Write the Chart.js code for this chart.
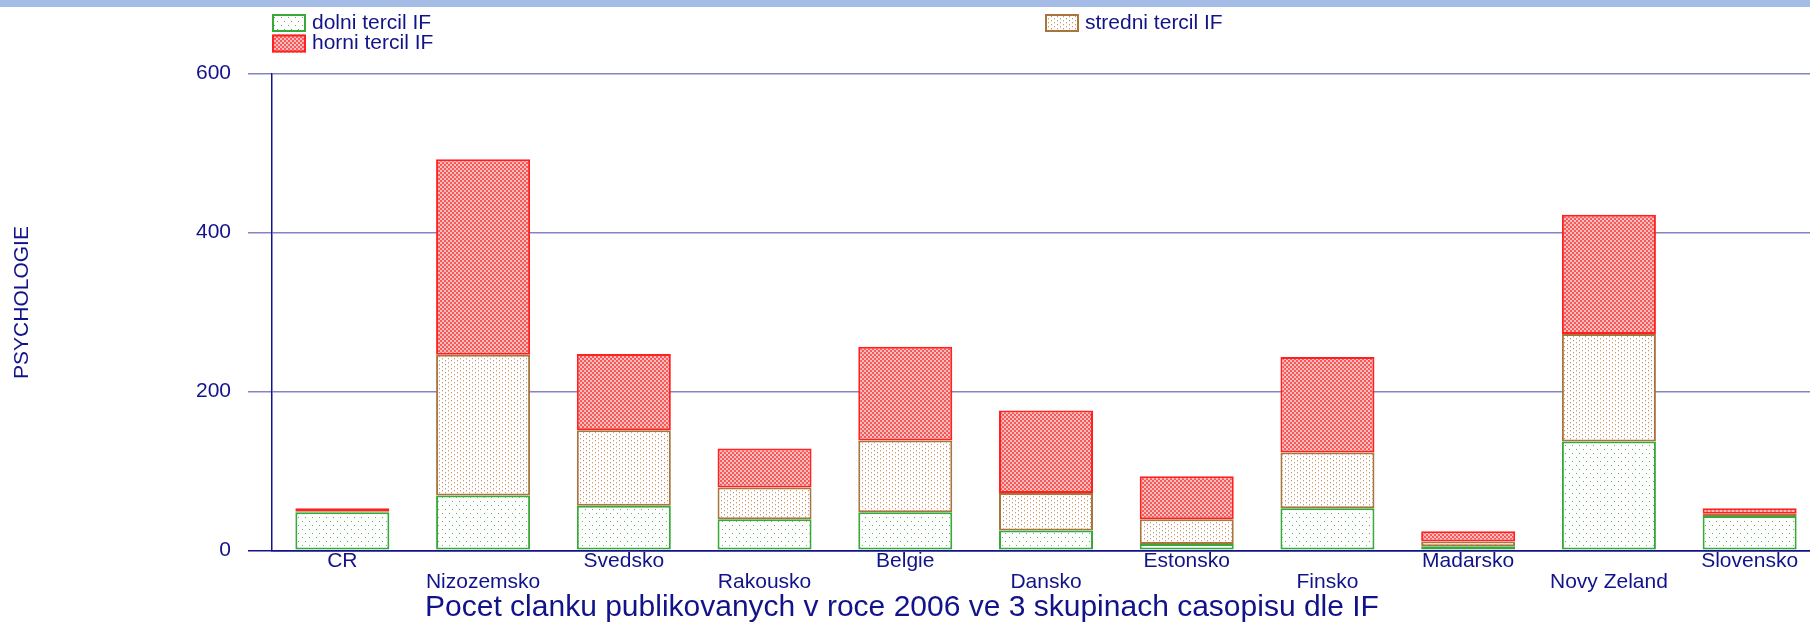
<!DOCTYPE html>
<html>
<head>
<meta charset="utf-8">
<script src="https://cdn.jsdelivr.net/npm/chart.js@4.4.1/dist/chart.umd.min.js"></script>
<style>
html,body{margin:0;padding:0;overflow:hidden;background:#fff;width:1810px;height:622px;}
canvas{display:block;}
</style>
</head>
<body>
<canvas id="c" width="1820" height="622"></canvas>
<script>
const categories = ['CR','Nizozemsko','Svedsko','Rakousko','Belgie','Dansko','Estonsko','Finsko','Madarsko','Novy Zeland','Slovensko'];
const dolni   = [48, 69, 56, 39, 48, 25, 8, 53, 5, 137, 43];
const stredni = [1, 177, 95, 40, 90, 47, 31, 70, 6, 135, 3];
const horni   = [4, 246, 96, 49, 118, 104, 54, 120, 13, 150, 7];
const seriesNames = ['dolni tercil IF', 'stredni tercil IF', 'horni tercil IF'];
const yTicks = [0, 200, 400, 600];
const xTitle = 'Pocet clanku publikovanych v roce 2006 ve 3 skupinach casopisu dle IF';
const yTitle = 'PSYCHOLOGIE';

const NAVY = '#12128a';
const GRID = '#8484c4';
const FONT = "'Liberation Sans', Arial, sans-serif";

function makePattern(w, h, bg, draw) {
  const c = document.createElement('canvas');
  c.width = w; c.height = h;
  const g = c.getContext('2d');
  g.fillStyle = bg; g.fillRect(0, 0, w, h);
  draw(g);
  return g.createPattern(c, 'repeat');
}
const ctx0 = document.getElementById('c').getContext('2d');
const greenPat = makePattern(7, 8, '#ffffff', g => {
  g.fillStyle = '#55b855';
  g.fillRect(1, 1, 1, 1); g.fillRect(4, 5, 1, 1);
});
const brownPat = makePattern(6, 4, '#ffffff', g => {
  g.fillStyle = '#c8966a';
  g.fillRect(1, 0, 1, 1); g.fillRect(4, 2, 1, 1);
  g.fillStyle = '#efdfcf';
  g.fillRect(1, 1, 1, 1); g.fillRect(4, 3, 1, 1);
});
const redPat = makePattern(4, 4, '#ffbcbc', g => {
  g.fillStyle = '#f45a5a';
  g.fillRect(0, 0, 2, 2); g.fillRect(2, 2, 2, 2);
});

const fills = [greenPat, brownPat, redPat];
const borders = ['#38a838', '#a8753f', '#ff2020'];

const labels = categories.map((c, i) => i % 2 === 1 ? ['', c] : c);

const decor = {
  id: 'decor',
  beforeDraw(chart) {
    const g = chart.ctx;
    g.save();
    g.fillStyle = '#a5bde6';
    g.fillRect(0, 0, chart.width, 7);
    g.restore();
  },
  afterDraw(chart) {
    const g = chart.ctx;
    g.save();
    g.font = '21px ' + FONT;
    g.textBaseline = 'alphabetic';
    g.textAlign = 'left';
    const items = [
      {x: 272, y: 14, i: 0},
      {x: 1045, y: 14, i: 1},
      {x: 272, y: 34.5, i: 2}
    ];
    items.forEach(it => {
      g.fillStyle = fills[it.i];
      g.fillRect(it.x, it.y, 34, 18);
      g.strokeStyle = borders[it.i];
      g.lineWidth = 2;
      g.strokeRect(it.x + 1, it.y + 1, 32, 16);
      g.fillStyle = NAVY;
      g.fillText(seriesNames[it.i], it.x + 40, it.y + 14.5);
    });
    g.font = '30px ' + FONT;
    g.textAlign = 'center';
    g.fillText(xTitle, 902, 616);
    g.font = '21px ' + FONT;
    g.translate(22, 302.5);
    g.rotate(-Math.PI / 2);
    g.textBaseline = 'middle';
    g.fillText(yTitle, 0, 0);
    g.restore();
  }
};

new Chart(ctx0, {
  type: 'bar',
  data: {
    labels: labels,
    datasets: [dolni, stredni, horni].map((d, i) => ({
      label: seriesNames[i],
      data: d,
      backgroundColor: fills[i],
      borderColor: borders[i],
      borderWidth: 2,
      borderSkipped: false
    }))
  },
  options: {
    responsive: false,
    animation: false,
    devicePixelRatio: 1,
    layout: { padding: { top: 73.3, left: 0, right: 0, bottom: 0 } },
    datasets: { bar: { categoryPercentage: 1, barPercentage: 0.668 } },
    plugins: {
      legend: { display: false },
      title: { display: false },
      tooltip: { enabled: false }
    },
    scales: {
      x: {
        stacked: true,
        grid: { display: false, drawTicks: false },
        border: { display: true, color: NAVY, width: 1.5 },
        ticks: {
          color: NAVY, font: { family: FONT, size: 21, lineHeight: 1.0 },
          padding: 0, maxRotation: 0, minRotation: 0, autoSkip: false
        },
        afterFit: s => { s.height = 71.7; }
      },
      y: {
        stacked: true,
        min: 0, max: 600,
        afterBuildTicks: s => { s.ticks = yTicks.map(v => ({ value: v })); },
        grid: {
          color: c => (c.tick && c.tick.value === 0) ? NAVY : GRID,
          tickColor: c => (c.tick && c.tick.value === 0) ? NAVY : GRID,
          lineWidth: 1.5,
          drawTicks: true, tickLength: 24
        },
        border: { display: true, color: NAVY, width: 1.5 },
        ticks: { color: NAVY, font: { family: FONT, size: 21 }, padding: 17 },
        afterFit: s => { s.width = 272; }
      }
    }
  },
  plugins: [decor]
});
</script>
</body>
</html>
